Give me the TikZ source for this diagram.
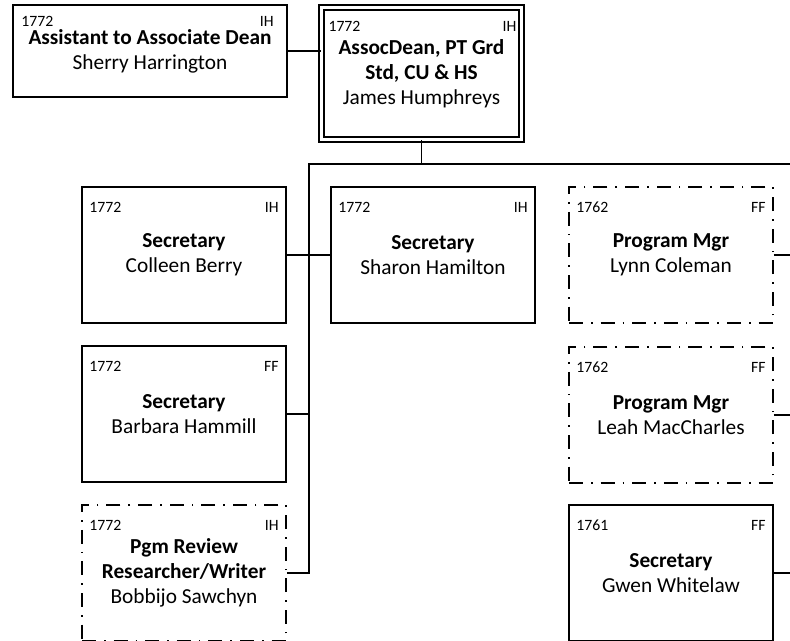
\documentclass[tikz,border=0pt]{standalone}
\usepackage{fontspec}
\setmainfont{Carlito}
\newcommand\bodyfont{\fontsize{16}{18.75}\selectfont}
\newcommand\codefont{\fontsize{11.8}{13}\selectfont}
\tikzset{
  bx/.style 2 args={minimum width=#1*0.75pt, minimum height=#2*0.75pt, inner sep=0pt, align=center, font=\bodyfont},
  solidbox/.style={draw, line width=1.3pt},
  dashbox/.style={draw, line width=1.3pt, dash pattern=on 10.5pt off 6pt on 1.2pt off 6pt},
  dblbox/.style={draw, double, double distance=2.6pt, line width=1.1pt},
  codetxt/.style={font=\codefont, inner sep=0pt},
  conn/.style={line width=1.1pt},
  busline/.style={line width=1.4pt},
}
\begin{document}
\begin{tikzpicture}[x=0.75pt,y=-0.75pt]
\useasboundingbox (0,0) rectangle (790,640);
% boxes
\node[bx={274}{92}, solidbox] (asst) at (150,51) {\textbf{Assistant to Associate Dean}\\Sherry Harrington};
\node[bx={200}{132}, dblbox] (ad) at (421.5,73.5) {\textbf{AssocDean, PT Grd}\\\textbf{Std, CU \& HS}\\James Humphreys};
\node[bx={204}{136}, solidbox] (colleen) at (184,255) {\textbf{Secretary}\\Colleen Berry};
\node[bx={204}{136}, solidbox] (sharon) at (433,255) {\textbf{Secretary}\\Sharon Hamilton};
\node[bx={204}{136}, dashbox] (lynn) at (671,255) {\textbf{Program Mgr}\\Lynn Coleman};
\node[bx={204}{136}, solidbox] (barbara) at (184,414) {\textbf{Secretary}\\Barbara Hammill};
\node[bx={204}{136}, dashbox] (leah) at (671,415) {\textbf{Program Mgr}\\Leah MacCharles};
\node[bx={204}{136}, dashbox] (bobbijo) at (184,573) {\textbf{Pgm Review}\\\textbf{Researcher/Writer}\\Bobbijo Sawchyn};
\node[bx={204}{136}, solidbox] (gwen) at (671,573) {\textbf{Secretary}\\Gwen Whitelaw};
% codes and tags
\node[codetxt, anchor=west] (asst-c) at ([shift={(9,17)}]asst.north west) {1772};
\node[codetxt, anchor=east] (asst-t) at ([shift={(-14,17)}]asst.north east) {IH};
\node[codetxt, anchor=west] (ad-c) at ([shift={(7.5,19.5)}]ad.north west) {1772};
\node[codetxt, anchor=east] (ad-t) at ([shift={(-5.5,19.5)}]ad.north east) {IH};
\foreach \n/\c/\t in {colleen/1772/IH, sharon/1772/IH, lynn/1762/FF, barbara/1772/FF, leah/1762/FF, bobbijo/1772/IH, gwen/1761/FF}{
  \node[codetxt, anchor=west] (\n-c) at ([shift={(8,21)}]\n.north west) {\c};
  \node[codetxt, anchor=east] (\n-t) at ([shift={(-8,21)}]\n.north east) {\t};
}
% connectors
\coordinate (busL) at (309,164);
\coordinate (busR) at (795,164);
\coordinate (rEdge) at (795,0);
\draw[conn] (asst.east) -- (asst.east -| ad.west);
\draw[busline] (ad.south) -- (ad.south |- busL);
\draw[busline] (bobbijo.east) -| (busL) -- (busR);
\draw[conn] (colleen.east) -- (sharon.west);
\draw[conn] (barbara.east) -- (barbara.east -| busL);
\draw[conn] (lynn.east) -- (lynn.east -| rEdge);
\draw[conn] (leah.east) -- (leah.east -| rEdge);
\draw[conn] (gwen.east) -- (gwen.east -| rEdge);
\end{tikzpicture}
\end{document}
